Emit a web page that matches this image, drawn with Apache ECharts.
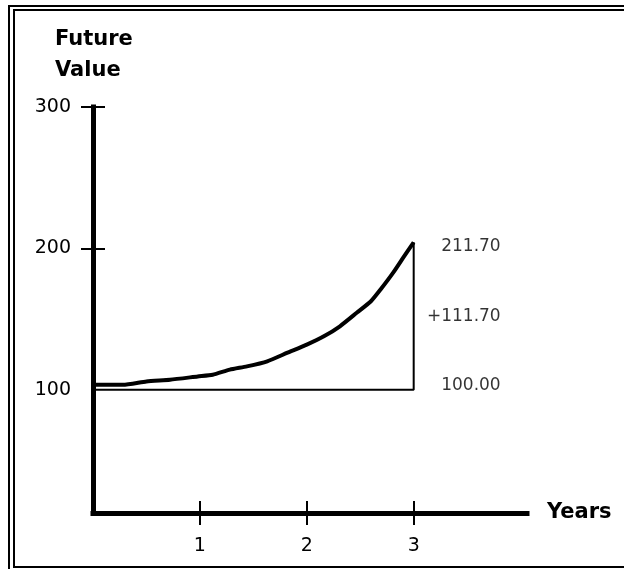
<!DOCTYPE html>
<html>
<head>
<meta charset="utf-8">
<script src="https://cdn.jsdelivr.net/npm/echarts@6/dist/echarts.min.js"></script>
<style>
html,body{margin:0;padding:0;background:#fff;}
#chart{width:624px;height:569px;}
</style>
</head>
<body>
<div id="chart"></div>
<script>
// Data
const years = [0, 0.28, 0.5, 0.72, 0.98, 1.12, 1.28, 1.44, 1.63, 1.82, 2.0, 2.16, 2.31, 2.47, 2.6, 2.69, 2.81, 2.91, 3.0];
const futureValue = [103.5, 103.5, 105.9, 107.1, 109.4, 110.6, 114.2, 116.5, 120.1, 126.2, 131.9, 137.8, 144.9, 154.6, 162.6, 170.9, 183, 194.3, 204.3];
const xTickValues = [1, 2, 3];
const yLabelValues = [100, 200, 300];
const yTickValues = [200, 300];
const baseYear = 0, endYear = 3, baseValue = 100;
const annotationTexts = ['211.70', '+111.70', '100.00'];
const annotationValues = [204.3, 152, 100];
const annotationDy = [4, 0, -4];

const FONT = 'DejaVu Sans';
const endValue = futureValue[futureValue.length - 1];

const chart = echarts.init(document.getElementById('chart'), null, {renderer: 'canvas'});

const axisCommonY = {
  type: 'value', min: 12.8, max: 300, position: 'left',
  splitLine: {show: false}
};
const axisCommonX = {
  type: 'value', min: 0, max: 4.06, position: 'bottom',
  splitLine: {show: false}
};

const option = {
  backgroundColor: '#fff',
  animation: false,
  title: {
    text: 'Future\nValue', left: 50, top: 19,
    textStyle: {fontFamily: FONT, fontWeight: 'bold', fontSize: 21, lineHeight: 31, color: '#000'}
  },
  grid: {left: 93, top: 107, right: 97, bottom: 56},
  xAxis: [
    Object.assign({}, axisCommonX, {
      name: 'Years', nameLocation: 'end', nameGap: 20,
      nameTextStyle: {fontFamily: FONT, fontWeight: 'bold', fontSize: 21, color: '#000', verticalAlign: 'middle'},
      axisLine: {show: true, lineStyle: {color: '#000', width: 5, cap: 'square'}},
      axisTick: {show: true, customValues: xTickValues, length: 12, lineStyle: {color: '#000', width: 2}},
      axisLabel: {show: true, customValues: xTickValues, margin: 24, fontFamily: FONT, fontSize: 19, color: '#000'}
    }),
    Object.assign({}, axisCommonX, {
      axisLine: {show: false},
      axisTick: {show: true, inside: true, customValues: xTickValues, length: 12, lineStyle: {color: '#000', width: 2}},
      axisLabel: {show: false}
    })
  ],
  yAxis: [
    Object.assign({}, axisCommonY, {
      axisLine: {show: true, lineStyle: {color: '#000', width: 5, cap: 'square'}},
      axisTick: {show: true, customValues: yTickValues, length: 12, lineStyle: {color: '#000', width: 2}},
      axisLabel: {show: true, customValues: yLabelValues, margin: 22, fontFamily: FONT, fontSize: 19, color: '#000'}
    }),
    Object.assign({}, axisCommonY, {
      axisLine: {show: false},
      axisTick: {show: true, inside: true, customValues: yTickValues, length: 12, lineStyle: {color: '#000', width: 2}},
      axisLabel: {show: false}
    })
  ],
  series: [
    {
      type: 'line', xAxisIndex: 0, yAxisIndex: 0,
      data: [[baseYear, baseValue], [endYear, baseValue], [endYear, endValue]],
      symbol: 'none', lineStyle: {color: '#000', width: 2}, z: 3
    },
    {
      type: 'line', xAxisIndex: 0, yAxisIndex: 0,
      data: years.map((x, i) => [x, futureValue[i]]),
      symbol: 'none', smooth: 0.2, lineStyle: {color: '#000', width: 4}, z: 4
    },
    {
      type: 'scatter', xAxisIndex: 0, yAxisIndex: 0,
      symbolSize: 1, itemStyle: {color: 'rgba(0,0,0,0)'},
      data: annotationValues.map((v, i) => ({
        value: [endYear, v],
        label: {
          show: true, formatter: annotationTexts[i], position: 'inside',
          align: 'right', verticalAlign: 'middle', offset: [87, annotationDy[i]],
          fontFamily: FONT, fontSize: 17, color: '#000'
        }
      }))
    }
  ],
  graphic: [
    {type: 'line', shape: {x1: 9, y1: 5, x2: 9, y2: 569}, style: {stroke: '#000', lineWidth: 2}},
    {type: 'line', shape: {x1: 8, y1: 6, x2: 624, y2: 6}, style: {stroke: '#000', lineWidth: 2}},
    {type: 'line', shape: {x1: 14, y1: 9, x2: 14, y2: 568}, style: {stroke: '#000', lineWidth: 2}},
    {type: 'line', shape: {x1: 13, y1: 10, x2: 624, y2: 10}, style: {stroke: '#000', lineWidth: 2}},
    {type: 'line', shape: {x1: 13, y1: 567, x2: 624, y2: 567}, style: {stroke: '#000', lineWidth: 2}}
  ]
};
chart.setOption(option);
</script>
</body>
</html>
